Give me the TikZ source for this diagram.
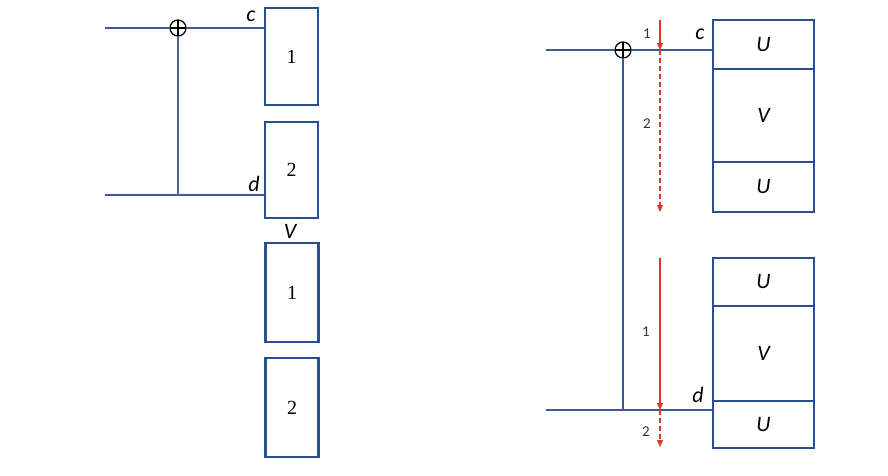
\documentclass[tikz,border=0pt]{standalone}
\usepackage{fontspec}
\setmainfont{Carlito}
\newfontfamily\numfont{Liberation Serif}
\usetikzlibrary{arrows.meta,positioning}
\definecolor{wireblue}{HTML}{3A5A9C}
\definecolor{boxblue}{HTML}{2A4F8F}
\definecolor{arrowred}{HTML}{E2382B}

\begin{document}
\begin{tikzpicture}[x=1pt,y=-1pt,
  wire/.style={draw=wireblue,line width=1.1pt},
  blk/.style={draw=boxblue,line width=2.6pt,outer sep=0pt,inner sep=0pt,minimum width=53pt},
  ublk/.style={blk,minimum width=101pt,font=\itshape\fontsize{22}{22}\selectfont},
  numblk/.style={blk,font=\numfont\fontsize{20}{20}\selectfont},
  xor/.style={circle,draw,line width=1.3pt,minimum size=16pt,inner sep=0pt,
    path picture={\draw[line width=1.3pt] (path picture bounding box.north) -- (path picture bounding box.south)
      (path picture bounding box.west) -- (path picture bounding box.east);}},
  lbl/.style={font=\itshape\fontsize{22}{22}\selectfont},
  rlbl/.style={font=\fontsize{15}{15}\selectfont,text=black!80},
  flow/.style={draw=arrowred,line width=1.1pt,-{Triangle[length=7pt,width=6pt]}}]
  \useasboundingbox (0,0) rectangle (888,475);

  % left picture
  \node[numblk,minimum height=97pt] (b1) at (291.5,56.5) {1};
  \node[numblk,minimum height=96pt] (b2) at (291.5,170) {2};
  \node[numblk,minimum height=99pt] (b3) at (292,292.5) {1};
  \node[numblk,minimum height=99pt] (b4) at (292,407.5) {2};
  \node[lbl] at (290,231) {V};

  \node[xor] (x1) at (178,28) {};
  \coordinate (inL1) at (105,28);
  \coordinate (inL2) at (105,195);
  \node[lbl] at (251,16) {c};
  \node[lbl] at (254,184) {d};

  \draw[wire] (inL1) -- (x1) -- (x1 -| b1.west);
  \draw[wire] (inL2) -- (inL2 -| b2.west);
  \draw[wire,draw=wireblue!70!gray] (x1) -- (x1 |- inL2);

  % right picture
  \node[ublk,minimum height=49pt] (u1) at (763.5,44.5) {U};
  \node[ublk,minimum height=93pt,below=0pt of u1] (v1) {V};
  \node[ublk,minimum height=50pt,below=0pt of v1] (u2) {U};

  \node[ublk,minimum height=48pt] (u3) at (763.5,282) {U};
  \node[ublk,minimum height=95pt,below=0pt of u3] (v2) {V};
  \node[ublk,minimum height=47pt,below=0pt of v2] (u4) {U};

  \node[xor] (x2) at (623,50) {};
  \coordinate (inR1) at (546,50);
  \coordinate (inR2) at (546,410);
  \node[lbl] at (700,34) {c};
  \node[lbl] at (698,395) {d};

  \draw[wire] (inR1) -- (x2) -- (x2 -| u1.west);
  \draw[wire] (inR2) -- (inR2 -| u4.west);
  \draw[wire] (x2) -- (x2 |- inR2);

  % read order
  \coordinate (t0) at (660,20);
  \coordinate (t1) at (660,50);
  \coordinate (t2) at (660,212);
  \coordinate (s0) at (660,258);
  \coordinate (s1) at (660,410);
  \coordinate (s2) at (660,447);
  \draw[flow] (t0) -- (t1);
  \draw[flow,dash pattern=on 5pt off 3pt] (t1) -- (t2);
  \draw[flow] (s0) -- (s1);
  \draw[flow,dash pattern=on 5pt off 3pt] (s1) -- (s2);
  \node[rlbl] at (647,34) {1};
  \node[rlbl] at (647,124) {2};
  \node[rlbl] at (646,332) {1};
  \node[rlbl] at (646,432) {2};
\end{tikzpicture}
\end{document}
